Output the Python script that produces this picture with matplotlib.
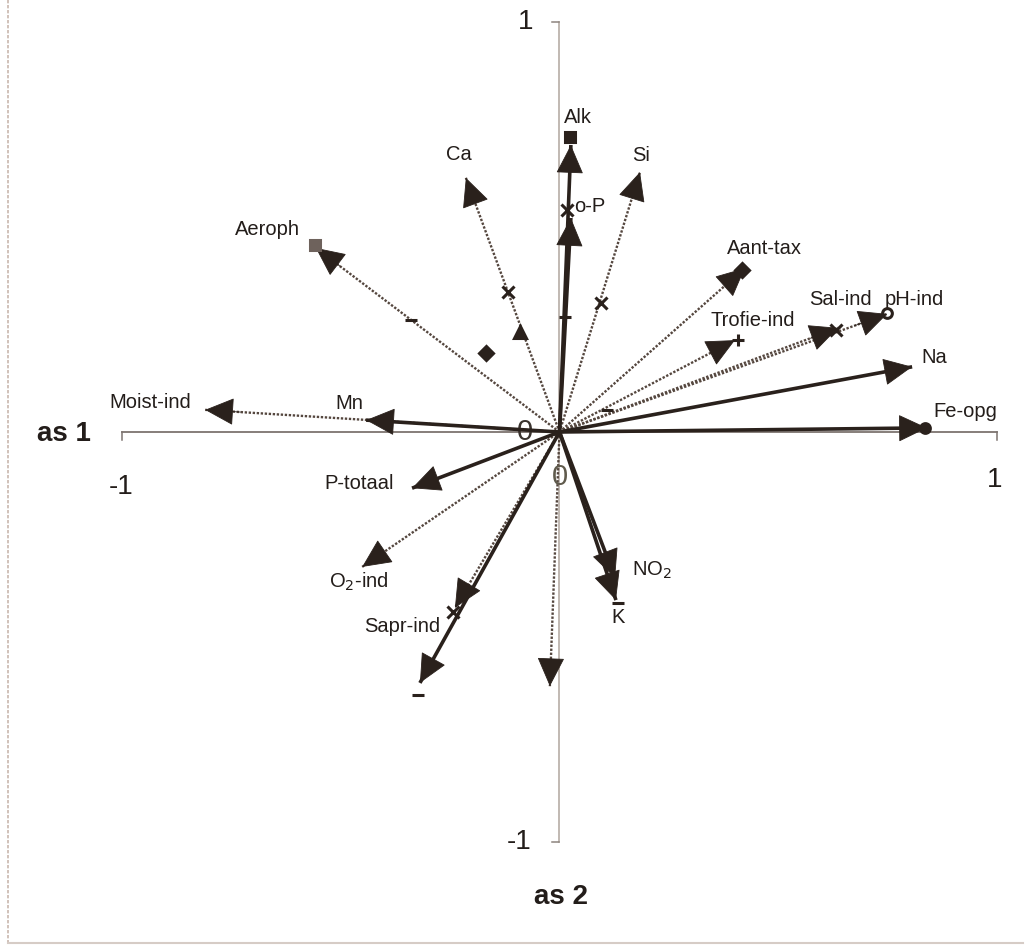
import numpy as np
import matplotlib
matplotlib.use("Agg")
import matplotlib.pyplot as plt

plt.rcParams['font.family'] = ['Liberation Sans', 'DejaVu Sans']

# variable loadings on as 1 / as 2
names = ['Alk', 'o-P', 'Si', 'Aant-tax', 'Trofie-ind', 'Sal-ind', 'pH-ind',
         'Na', 'Fe-opg', 'NO2', 'K', '', 'Sapr-ind', '', 'O2-ind',
         'P-totaal', 'Mn', 'Moist-ind', 'Aeroph', 'Ca']
as1 = np.array([0.026, 0.026, 0.184, 0.424, 0.401, 0.637, 0.749,
                0.806, 0.840, 0.127, 0.129, -0.022, -0.239, -0.319, -0.451,
                -0.337, -0.442, -0.810, -0.557, -0.214])
as2 = np.array([0.700, 0.522, 0.634, 0.400, 0.224, 0.254, 0.288,
                0.159, 0.010, -0.356, -0.410, -0.620, -0.429, -0.612, -0.329,
                -0.137, 0.029, 0.054, 0.449, 0.620])
solid = [True, True, False, False, False, False, False,
         True, True, True, True, False, False, True, False,
         True, True, False, False, False]

# label text (mathtext for subscripts)
label_text = {'NO2': r'NO$_2$', 'O2-ind': r'O$_2$-ind'}
# label offsets from arrow tip, pixels (right, up)
label_off = {'Alk': (7, 28), 'o-P': (19, 11), 'Si': (1, 17), 'Aant-tax': (19, 20),
             'Trofie-ind': (18, 20), 'Sal-ind': (2, 28), 'pH-ind': (27, 14),
             'Na': (22, 9), 'Fe-opg': (38, 16), 'NO2': (37, 8), 'K': (2, -17),
             'Sapr-ind': (-53, -19), 'O2-ind': (-3, -15), 'P-totaal': (-53, 5),
             'Mn': (-17, 17), 'Moist-ind': (-55, 7), 'Aeroph': (-48, 18),
             'Ca': (-7, 23)}

# loose symbols
pt_x = [-0.118, -0.090, -0.168, -0.339, 0.095, 0.109, -0.323, 0.024, -0.559,
        0.835, 0.749, 0.017, 0.408, 0.417, 0.632, 0.134, -0.243, 0.013]
pt_y = [0.341, 0.244, 0.193, 0.273, 0.315, 0.054, -0.641, 0.720, 0.456,
        0.010, 0.290, 0.541, 0.224, 0.395, 0.249, -0.417, -0.439, 0.280]
pt_mk = ['x', '^', 'D', '_', 'x', '_', '_', 's', 's',
         'o', 'o', 'x', '+', 'D', 'x', '_', 'x', '_']
mk_size = {'x': 9, '^': 9, 'D': 7, '_': 8, 's': 7, 'o': 7, '+': 9}

ink = '#2a211c'
txt = '#231d1a'
fig = plt.figure(figsize=(10.29, 9.46), dpi=100)
ax = fig.add_axes([0, 0, 1, 1])
ax.set_xlim(-559.5 / 437.5, (1029 - 559.5) / 437.5)
ax.set_ylim((432 - 946) / 410, 432 / 410)
ax.axis('off')

# frame of the figure (left and bottom edge)
ax.plot([-551.5 / 437.5, -551.5 / 437.5], [432 / 410, (432 - 943) / 410],
        color='#c9b8ae', lw=1.2, ls=(0, (2, 1)))
ax.plot([-551.5 / 437.5, 1.06], [(432 - 943) / 410] * 2, color='#d6ccc6', lw=1.5)

# axes
ax.plot([-1, 1], [0, 0], color='#7d7470', lw=1.3)
ax.plot([-1, -1], [0, -0.02], color='#7d7470', lw=1.1)
ax.plot([1, 1], [0, -0.02], color='#7d7470', lw=1.1)
ax.plot([0, 0], [-1, 1], color='#b0a59e', lw=1.1)
ax.plot([0, -0.017], [1, 1], color='#8d847e', lw=1.1)
ax.plot([0, -0.017], [-1, -1], color='#8d847e', lw=1.1)

tk = dict(fontsize=20, color=txt, ha='center', va='center')
ax.text(-1.002, -0.134, '-1', **tk)
ax.text(0.995, -0.117, '1', **tk)
ax.text(-0.077, 1.0, '1', **tk)
ax.text(-0.093, -1.0, '-1', **tk)
ax.text(-0.079, 0.0, '0', fontsize=21, color='#3a332e', ha='center', va='center')
ax.text(0.002, -0.110, '0', fontsize=21, color='#5f5a4c', ha='center', va='center')
ax.text(-1.132, -0.005, 'as 1', fontsize=20, fontweight='bold', color=txt,
        ha='center', va='center')
ax.text(0.003, -1.134, 'as 2', fontsize=20, fontweight='bold', color=txt,
        ha='center', va='center')

# arrows
for n, x, y, s in zip(names, as1, as2, solid):
    if s:
        ax.plot([0, x], [0, y], color=ink, lw=2.6, solid_capstyle='butt', zorder=3)
    else:
        ax.plot([0, x], [0, y], color='#55473f', lw=1.7, ls=(0, (1, 0.7)), zorder=2)
    ax.annotate('', xy=(x, y), xytext=(x * 0.9, y * 0.9),
                arrowprops=dict(arrowstyle='-|>,head_length=0.95,head_width=0.45',
                                mutation_scale=20, color=ink, lw=0.6,
                                shrinkA=0, shrinkB=0),
                zorder=4)
    if n:
        dx, dy = label_off[n]
        ax.annotate(label_text.get(n, n), xy=(x, y), xytext=(dx, dy),
                    textcoords='offset pixels', ha='center', va='center',
                    fontsize=14.5, color=txt, zorder=5)

for x, y, m in zip(pt_x, pt_y, pt_mk):
    face = 'none' if m == 'o' and x < 0.8 else ink
    col = '#6e625c' if (m == 's' and x < 0) else ink
    ax.plot(x, y, marker=m, ms=mk_size[m], color=col,
            mfc=face if face == 'none' else col,
            mew=2.2, ls='none', zorder=6)

fig.savefig('out.png', dpi=100, facecolor='white')
